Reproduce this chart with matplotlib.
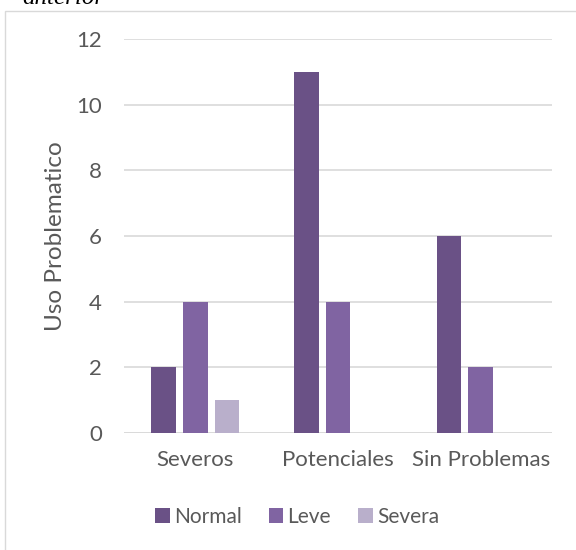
import numpy as np
import matplotlib.pyplot as plt
from matplotlib.patches import Rectangle

# grouped bar data
categories = ["Severos", "Potenciales", "Sin Problemas"]
series_names = ["Normal", "Leve", "Severa"]
normal = [2, 11, 6]
leve = [4, 4, 2]
severa = [1, 0, 0]
colors = ["#6a5186", "#8064a2", "#b9afcb"]
text_gray = "#595959"

plt.rcParams['font.family'] = ['Lato', 'DejaVu Sans']

fig = plt.figure(figsize=(5.76, 5.5), dpi=100)
ax = fig.add_axes([124/576, 1-433/550, 428/576, 394/550])

x = np.arange(len(categories))
width = 0.175
step = 0.222
for i, (vals, name) in enumerate(zip([normal, leve, severa], series_names)):
    ax.bar(x + (i - 1) * step, vals, width, color=colors[i], label=name, zorder=3)

ax.set_xlim(-0.5, len(categories) - 0.5)
ax.set_ylim(0, 12)
ax.set_yticks(range(0, 13, 2))
ax.yaxis.grid(True, color="#d9d9d9", linewidth=1.2, zorder=0)
for s in ax.spines.values():
    s.set_visible(False)
ax.axhline(0, color="#d9d9d9", linewidth=1.2, zorder=2)
ax.tick_params(axis='both', length=0, labelsize=16, colors=text_gray)
ax.tick_params(axis='y', pad=16)
ax.tick_params(axis='x', pad=12)
ax.set_xticks(x)
ax.set_xticklabels(categories)
ax.set_ylabel("Uso Problematico", fontsize=17.5, color=text_gray)
ax.yaxis.set_label_coords(-0.135, 0.5)

fig.legend(loc='center', bbox_to_anchor=(297/576, 1-517/550), ncol=3,
           frameon=False, fontsize=15, labelcolor=text_gray,
           handlelength=0.7, handleheight=0.7, handletextpad=0.2,
           columnspacing=1.3)

# chart area border
fig.patches.append(Rectangle((4.5/576, -0.01), 1.0, 1-11/550 + 0.01,
                             transform=fig.transFigure, fill=False,
                             edgecolor="#d9d9d9", linewidth=1.0))

fig.text(22/576, 1-3.5/550, "anterior", fontsize=18, style='italic',
         family='Liberation Serif', va='baseline', ha='left', color='black')

fig.savefig("out.png", dpi=100, facecolor='white')
